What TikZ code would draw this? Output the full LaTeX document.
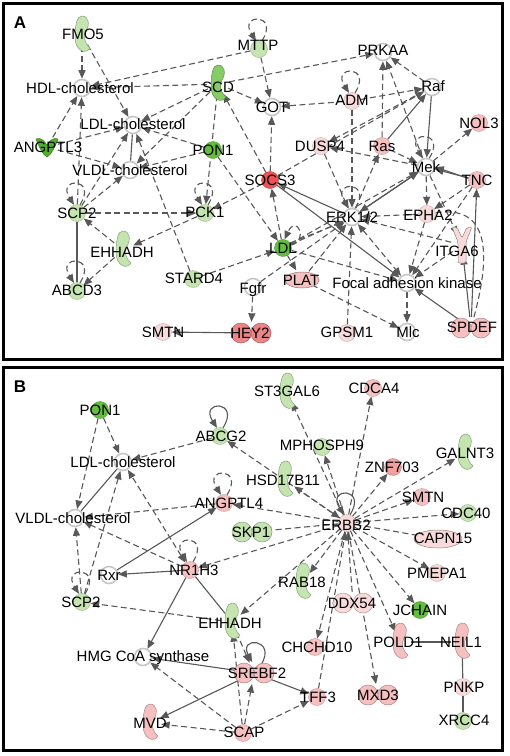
\documentclass[tikz,border=0pt]{standalone}
\usepackage{fontspec}
\setmainfont{Liberation Sans}
\usetikzlibrary{arrows.meta,backgrounds,calc}
\pgfdeclarelayer{bottom}
\pgfsetlayers{bottom,background,main}
\definecolor{gS}{HTML}{63BE3F}
\definecolor{gM}{HTML}{86CC66}
\definecolor{gL}{HTML}{C4E4B0}
\definecolor{gD}{HTML}{4DB02A}
\definecolor{pL}{HTML}{F9DADA}
\definecolor{pM}{HTML}{F6C0C0}
\definecolor{rP}{HTML}{F3A0A0}
\definecolor{rM}{HTML}{EC8686}
\definecolor{rS}{HTML}{EF5250}
\definecolor{ec}{HTML}{585858}
\tikzset{
  lbl/.style={inner sep=0pt, font=\fontsize{15}{15}\selectfont, text height=10.7pt, text depth=0pt},
  cir/.style={circle, minimum size=17pt, inner sep=0pt, fill=#1, draw=#1!80!black, line width=0.4pt},
  gcir/.style={circle, minimum size=17pt, inner sep=0pt, fill=white, draw=black!22, line width=1.6pt},
  hit/.style={circle, minimum size=#1, inner sep=0pt},
  hit/.default=22pt,
  dl/.style={draw=ec, line width=1.1pt, dash pattern=on 6pt off 3.5pt, ->},
  dd/.style={draw=ec, line width=1.1pt, dash pattern=on 6pt off 3.5pt, <->},
  dn/.style={draw=ec, line width=1.1pt, dash pattern=on 6pt off 3.5pt},
  sl/.style={draw=ec, line width=1.1pt, ->},
  sn/.style={draw=ec, line width=1.1pt},
  frame/.style={draw=black, line width=3pt},
  pics/enz/.style={code={\path[fill=#1,draw=#1!70!black,line width=0.5pt]
     (0,-19) .. controls (7,-19) and (8,-10) .. (4,-4) .. controls (1,1) and (2,8) .. (8,13)
     .. controls (4,20) and (-7,16) .. (-7,2) .. controls (-7,-10) and (-5,-19) .. (0,-19) -- cycle;}},
  pics/dim/.style={code={\path[fill=#1,draw=#1!70!black,line width=0.5pt]
     (-10,0) circle[radius=10pt] (10,0) circle[radius=10pt];}},
  pics/oval/.style={code={\path[fill=#1,draw=#1!60!black,line width=0.5pt]
     (0,0) ellipse[x radius=17pt,y radius=8pt];}},
  pics/ovalw/.style={code={\path[fill=#1,draw=#1!60!black,line width=0.5pt]
     (0,0) ellipse[x radius=24pt,y radius=9pt];}},
  pics/yrec/.style={code={\path[fill=#1,draw=#1!60!black,line width=0.5pt,rounded corners=2pt]
     (-10,-18) -- (-5,-18) -- (0,-7) -- (5,-18) -- (10,-18) -- (4,-3) -- (4,18) -- (-4,18) -- (-4,-3) -- cycle;}},
  pics/chan/.style={code={\path[fill=#1,draw=#1!70!black,line width=0.5pt]
     (-11,-8) .. controls (-4,-10) and (-2,-4) .. (0,-2) .. controls (2,-4) and (4,-10) .. (11,-8)
     .. controls (8,0) and (4,8) .. (0,10) .. controls (-4,8) and (-8,0) .. (-11,-8) -- cycle;}}
}
\newcommand\lp[2]{\draw[#2] (#1.70) .. controls +(18,-28) and +(-18,-28) .. (#1.110);}
\begin{document}
\begin{tikzpicture}[x=1pt,y=-1pt,>={Triangle[length=8.5pt,width=7pt]}]
\useasboundingbox (0,0) rectangle (510,756);
\begin{pgfonlayer}{bottom}
\fill[white] (0,0) rectangle (510,756);
\end{pgfonlayer}
\draw[frame] (3.5,3.5) rectangle (502,359);
\draw[frame] (3.5,367.5) rectangle (502,750.5);
\node[inner sep=0pt,font=\bfseries\fontsize{17}{17}\selectfont] (labA) at (20,23) {A};
\node[inner sep=0pt,font=\bfseries\fontsize{17}{17}\selectfont] (labB) at (20,387) {B};

% ---------- Panel A symbols
\pic at (82,35) {enz=gL}; \node[hit] (aFMO5) at (82,35) {};
\node[gcir] (aHDL) at (82,88) {};
\pic at (218,84) {enz=gM}; \node[hit] (aSCD) at (218,84) {};
\node[cir=gL] (aMTTP) at (259,49) {};
\node[gcir] (aGOT) at (272,107) {};
\node[gcir] (aPRKAA) at (383,52) {};
\node[cir=pL] (aADM) at (352,101) {};
\node[gcir] (aRaf) at (432,87) {};
\node[cir=pM] (aNOL3) at (479,123) {};
\node[gcir] (aLDLc) at (133,125) {};
\pic at (47,147) {chan=gD}; \node[hit] (aANG) at (47,147) {};
\node[cir=gS] (aPON1) at (213,150) {};
\node[cir=pL] (aDUSP4) at (321,146) {};
\node[cir=pM] (aRas) at (382,146) {};
\node[gcir] (aVLDL) at (130,170) {};
\node[gcir] (aMek) at (426,167) {};
\node[cir=rS] (aSOCS3) at (270,180) {};
\node[cir=pM] (aTNC) at (477,180) {};
\node[cir=gL] (aPCK1) at (205,213) {};
\node[cir=gL] (aSCP2) at (77,213) {};
\node[gcir] (aERK) at (352,217) {};
\node[cir=pL] (aEPHA2) at (427,214) {};
\pic at (123,250) {enz=gL}; \node[hit] (aEHHADH) at (123,250) {};
\pic at (462,245) {yrec=pL}; \node[hit] (aITGA6) at (462,245) {};
\node[cir=gS] (aLDL) at (283,248) {};
\node[cir=gL] (aSTARD4) at (193,279) {};
\pic at (302,280) {oval=pM}; \node[hit] (aPLAT) at (302,280) {};
\node[gcir] (aFAK) at (407,283) {};
\node[gcir] (aFgfr) at (253,287) {};
\node[cir=gL] (aABCD3) at (77,291) {};
\node[cir=pL] (aSMTN) at (163,332) {};
\pic at (251,333) {dim=rM}; \node[hit] (aHEY2) at (251,333) {};
\node[cir=pL] (aGPSM1) at (347,333) {};
\node[gcir] (aMlc) at (407,332) {};
\pic at (471,328) {dim=pM}; \node[hit] (aSPDEF) at (471,328) {};

% ---------- Panel B symbols
\node[cir=gS] (bPON1) at (100,410) {};
\node[cir=gL] (bABCG2) at (220,436) {};
\node[gcir] (bLDLc) at (123,462) {};
\node[gcir] (bVLDL) at (75,518) {};
\node[cir=pM] (bANGPTL4) at (224,503) {};
\pic at (285,480) {enz=gL}; \node[hit] (bHSD) at (285,480) {};
\pic at (287,392) {enz=gL}; \node[hit] (bST3) at (287,392) {};
\node[cir=pM] (bCDCA4) at (373,388) {};
\node[cir=gL] (bMPH) at (322,447) {};
\pic at (465,453) {enz=gL}; \node[hit] (bGALNT3) at (465,453) {};
\node[cir=rP] (bZNF) at (393,467) {};
\node[cir=pM] (bSMTN) at (422,497) {};
\node[cir=gL] (bCDC40) at (468,513) {};
\pic at (438,539) {ovalw=pL}; \node[hit] (bCAPN15) at (438,539) {};
\node[cir=pL] (bERBB2) at (347,523) {};
\pic at (252,532) {dim=gL}; \node[hit] (bSKP1) at (252,532) {};
\node[cir=pM] (bNR1H3) at (190,570) {};
\pic at (303,582) {enz=gL}; \node[hit] (bRAB18) at (303,582) {};
\pic at (353,603) {dim=pL}; \node[hit] (bDDX54) at (353,603) {};
\node[cir=gS] (bJCHAIN) at (420,610) {};
\node[cir=pL] (bPMEPA1) at (437,573) {};
\pic at (232,622) {enz=gL}; \node[hit] (bEHHADH) at (232,622) {};
\node[gcir] (bRxr) at (109,575) {};
\node[cir=gL] (bSCP2) at (82,602) {};
\node[gcir] (bHMG) at (143,657) {};
\pic at (254,673) {dim=pM}; \node[hit] (bSREBF2) at (254,673) {};
\node[cir=pM] (bCHCHD10) at (315,647) {};
\pic at (400,642) {enz=pM}; \node[hit] (bPOLD1) at (400,642) {};
\pic at (462,642) {enz=pM}; \node[hit] (bNEIL1) at (462,642) {};
\node[cir=pL] (bPNKP) at (463,687) {};
\node[cir=gL] (bXRCC4) at (463,721) {};
\node[cir=pM] (bTFF3) at (317,697) {};
\pic at (378,695) {dim=pM}; \node[hit] (bMXD3) at (378,695) {};
\pic at (150,723) {enz=pM}; \node[hit] (bMVD) at (150,723) {};
\node[cir=pM] (bSCAP) at (243,733) {};

% ---------- Edges
\begin{pgfonlayer}{background}
\foreach \a/\b in {aFMO5/aHDL, aFMO5/aLDLc, aMTTP/aHDL, aSCD/aHDL, aSCD/aLDLc, aSCD/aVLDL,
  aMTTP/aGOT, aSCD/aPRKAA, aSCD/aGOT, aADM/aGOT, aADM/aRaf, aRaf/aPRKAA, aRaf/aDUSP4,
  aRas/aPRKAA, aMek/aPRKAA, aMek/aNOL3, aMek/aDUSP4, aRas/aMek, aADM/aERK, aDUSP4/aERK,
  aERK/aRas, aSOCS3/aSCD, aSOCS3/aGOT, aSOCS3/aPCK1, aSOCS3/aRaf, aLDL/aSOCS3, aSCD/aPCK1,
  aPON1/aLDL, aPON1/aLDLc, aPON1/aVLDL, aANG/aHDL, aANG/aLDLc, aANG/aVLDL, aSCP2/aHDL,
  aSCP2/aLDLc, aSCP2/aVLDL, aEHHADH/aSCP2, aEHHADH/aABCD3, aPCK1/aEHHADH, aSCP2/aPCK1,
  aSTARD4/aLDLc, aSTARD4/aLDL, aLDL/aPLAT, aLDL/aERK, aLDL/aFAK, aPLAT/aERK, aPLAT/aMlc,
  aFgfr/aERK, aFgfr/aHEY2, aGPSM1/aERK, aFAK/aMlc, aEPHA2/aERK, aEPHA2/aFAK, aITGA6/aERK,
  aITGA6/aFAK, aMek/aEPHA2, aMek/aITGA6, aTNC/aFAK, aTNC/aEPHA2, aLDL/aMek}
  \draw[dl] (\a) -- (\b);
\draw[dl] (aLDL.35) -- (aERK.210);
\draw[dd] (aERK) -- (aFAK);
\draw[dn] (aEPHA2) .. controls (488,205) and (492,250) .. (aSPDEF);
\foreach \a/\b in {aRaf/aMek, aRas/aRaf, aMek/aERK, aTNC/aMek, aERK/aSOCS3, aSOCS3/aFAK,
  aSPDEF/aFAK, aSPDEF/aITGA6, aSPDEF/aTNC, aHEY2/aSMTN, aERK/aMek}
  \draw[sl] (\a) -- (\b);
\draw[sl] (aTNC.170) -- (aMek.0);
\draw[sn] (aLDLc) -- (aVLDL);
\draw[sn] (aSCP2) -- (aABCD3);
\lp{aMTTP}{dl} \lp{aADM}{dl} \lp{aMek}{dl} \lp{aSCP2}{dl} \lp{aABCD3}{dl} \lp{aPCK1}{dl} \lp{aERK}{dl}
\draw[dl] (aLDL.20) .. controls +(18,-4) and +(12,-26) .. (aLDL.80);

\foreach \a/\b in {bPON1/bLDLc, bPON1/bVLDL, bABCG2/bLDLc, bANGPTL4/bVLDL, bNR1H3/bVLDL,
  bSCP2/bVLDL, bSCP2/bLDLc, bEHHADH/bSCP2, bERBB2/bEHHADH, bERBB2/bNR1H3, bERBB2/bSKP1,
  bERBB2/bANGPTL4, bERBB2/bABCG2, bERBB2/bST3, bERBB2/bMPH, bERBB2/bCDCA4, bERBB2/bZNF,
  bERBB2/bGALNT3, bERBB2/bSMTN, bERBB2/bCDC40, bERBB2/bCAPN15, bERBB2/bPMEPA1, bERBB2/bJCHAIN,
  bERBB2/bPOLD1, bERBB2/bMXD3, bERBB2/bCHCHD10, bTFF3/bERBB2, bERBB2/bRAB18, bSCAP/bSREBF2,
  bSCAP/bHMG, bSCAP/bMVD, bSCAP/bTFF3, bSCAP/bEHHADH, bEHHADH/bSREBF2, bDDX54/bERBB2}
  \draw[dl] (\a) -- (\b);
\draw[dd] (bNR1H3) -- (bLDLc);
\draw[dd] (bERBB2) -- (bHSD);
\foreach \a/\b in {bNR1H3/bRxr, bRxr/bANGPTL4, bNR1H3/bHMG, bSREBF2/bHMG, bSREBF2/bMVD, bSREBF2/bTFF3}
  \draw[sl] (\a) -- (\b);
\foreach \a/\b in {bLDLc/bVLDL, bNR1H3/bEHHADH, bPOLD1/bNEIL1, bNEIL1/bPNKP, bPNKP/bXRCC4}
  \draw[sn] (\a) -- (\b);
\lp{bABCG2}{sl} \lp{bANGPTL4}{dl} \lp{bERBB2}{sl} \lp{bNR1H3}{dl} \lp{bSCP2}{dl}
\draw[sl] (bSREBF2.50) .. controls +(16,-26) and +(-14,-26) .. (bSREBF2.100);
\end{pgfonlayer}

% ---------- Labels A
\node[lbl] (tFMO5) at (83,34) {FMO5};
\node[lbl] (tHDL) at (80,88) {HDL-cholesterol};
\node[lbl] (tSCD) at (218,87) {SCD};
\node[lbl] (tMTTP) at (258,45) {MTTP};
\node[lbl] (tGOT) at (272,107) {GOT};
\node[lbl] (tPRKAA) at (383,50) {PRKAA};
\node[lbl] (tADM) at (352,100) {ADM};
\node[lbl] (tRaf) at (433,86) {Raf};
\node[lbl] (tNOL3) at (479,123) {NOL3};
\node[lbl] (tLDLc) at (133,124) {LDL-cholesterol};
\node[lbl] (tANG) at (48,147) {ANGPTL3};
\node[lbl] (tPON1) at (213,150) {PON1};
\node[lbl] (tDUSP4) at (320,146) {DUSP4};
\node[lbl] (tRas) at (382,146) {Ras};
\node[lbl] (tVLDL) at (130,170) {VLDL-cholesterol};
\node[lbl] (tMek) at (426,167) {Mek};
\node[lbl] (tSOCS3) at (270,180) {SOCS3};
\node[lbl] (tTNC) at (477,180) {TNC};
\node[lbl] (tPCK1) at (205,212) {PCK1};
\node[lbl] (tSCP2) at (77,213) {SCP2};
\node[lbl] (tERK) at (352,217) {ERK1/2};
\node[lbl] (tEPHA2) at (428,215) {EPHA2};
\node[lbl] (tEHHADH) at (122,252) {EHHADH};
\node[lbl] (tITGA6) at (457,251) {ITGA6};
\node[lbl] (tLDL) at (283,248) {LDL};
\node[lbl] (tSTARD4) at (194,278) {STARD4};
\node[lbl] (tPLAT) at (301,280) {PLAT};
\node[lbl] (tFAK) at (407,283) {Focal adhesion kinase};
\node[lbl] (tFgfr) at (253,288) {Fgfr};
\node[lbl] (tABCD3) at (77,290) {ABCD3};
\node[lbl] (tSMTNa) at (163,332) {SMTN};
\node[lbl] (tHEY2) at (250,333) {HEY2};
\node[lbl] (tGPSM1) at (347,332) {GPSM1};
\node[lbl] (tMlc) at (408,332) {Mlc};
\node[lbl] (tSPDEF) at (472,327) {SPDEF};

% ---------- Labels B
\node[lbl] (uPON1) at (100,410) {PON1};
\node[lbl] (uABCG2) at (221,436) {ABCG2};
\node[lbl] (uLDLc) at (123,462) {LDL-cholesterol};
\node[lbl] (uVLDL) at (73,518) {VLDL-cholesterol};
\node[lbl] (uANGPTL4) at (229,503) {ANGPTL4};
\node[lbl] (uHSD) at (283,480) {HSD17B11};
\node[lbl] (uST3) at (287,391) {ST3GAL6};
\node[lbl] (uCDCA4) at (374,388) {CDCA4};
\node[lbl] (uMPH) at (322,445) {MPHOSPH9};
\node[lbl] (uGALNT3) at (465,453) {GALNT3};
\node[lbl] (uZNF) at (392,467) {ZNF703};
\node[lbl] (uSMTN) at (423,497) {SMTN};
\node[lbl] (uCDC40) at (466,513) {CDC40};
\node[lbl] (uCAPN15) at (443,538) {CAPN15};
\node[lbl] (uERBB2) at (346,525) {ERBB2};
\node[lbl] (uSKP1) at (251,532) {SKP1};
\node[lbl] (uNR1H3) at (194,570) {NR1H3};
\node[lbl] (uRAB18) at (302,582) {RAB18};
\node[lbl] (uDDX54) at (352,603) {DDX54};
\node[lbl] (uJCHAIN) at (420,610) {JCHAIN};
\node[lbl] (uPMEPA1) at (437,573) {PMEPA1};
\node[lbl] (uEHHADH) at (230,623) {EHHADH};
\node[lbl] (uRxr) at (109,575) {Rxr};
\node[lbl] (uSCP2) at (81,602) {SCP2};
\node[lbl] (uHMG) at (143,656) {HMG CoA synthase};
\node[lbl] (uSREBF2) at (257,673) {SREBF2};
\node[lbl] (uCHCHD10) at (317,647) {CHCHD10};
\node[lbl] (uPOLD1) at (398,642) {POLD1};
\node[lbl] (uNEIL1) at (461,642) {NEIL1};
\node[lbl] (uPNKP) at (464,687) {PNKP};
\node[lbl] (uXRCC4) at (464,720) {XRCC4};
\node[lbl] (uTFF3) at (318,697) {TFF3};
\node[lbl] (uMXD3) at (378,695) {MXD3};
\node[lbl] (uMVD) at (150,723) {MVD};
\node[lbl] (uSCAP) at (244,732) {SCAP};
\end{tikzpicture}
\end{document}
